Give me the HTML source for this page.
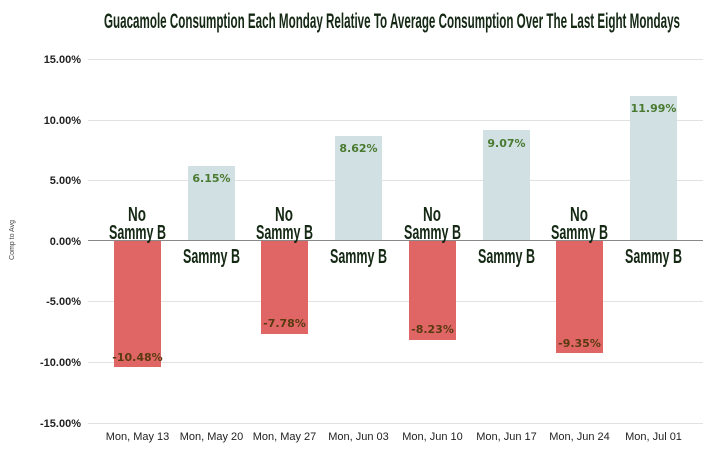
<!DOCTYPE html>
<html><head><meta charset="utf-8"><style>
html,body{margin:0;padding:0;background:#fff;}
svg{display:block;}
.cond{font-family:"Liberation Sans Narrow","Liberation Sans",sans-serif;font-weight:bold;fill:#142814;}
.tick{font-family:"Liberation Sans",sans-serif;font-weight:bold;font-size:11px;fill:#222;}
.xl{font-family:"Liberation Sans",sans-serif;font-size:11px;fill:#222;}
.vp{font-family:"DejaVu Sans",sans-serif;font-weight:bold;font-size:11px;fill:#4a7a30;}
.vn{font-family:"DejaVu Sans",sans-serif;font-weight:bold;font-size:11px;fill:#5a3a10;}
</style></head><body>
<svg width="726" height="464" viewBox="0 0 726 464" xmlns="http://www.w3.org/2000/svg">
<text class="cond" x="104" y="28" font-size="21" textLength="576" lengthAdjust="spacingAndGlyphs">Guacamole  Consumption  Each  Monday  Relative  To  Average  Consumption  Over  The  Last  Eight  Mondays</text>
<g stroke="#e2e2e2" stroke-width="1">
<line x1="88" y1="59.5" x2="703" y2="59.5"/>
<line x1="88" y1="120.5" x2="703" y2="120.5"/>
<line x1="88" y1="180.5" x2="703" y2="180.5"/>
<line x1="88" y1="301.5" x2="703" y2="301.5"/>
<line x1="88" y1="362.5" x2="703" y2="362.5"/>
<line x1="88" y1="423.5" x2="703" y2="423.5"/>
</g>
<g class="tick" text-anchor="end">
<text x="81" y="63">15.00%</text>
<text x="81" y="124">10.00%</text>
<text x="81" y="184">5.00%</text>
<text x="81" y="245">0.00%</text>
<text x="81" y="305">-5.00%</text>
<text x="81" y="366">-10.00%</text>
<text x="81" y="427">-15.00%</text>
</g>
<text x="14" y="240" font-family="Liberation Sans,sans-serif" font-size="7" fill="#444" text-anchor="middle" transform="rotate(-90 14 240)">Comp to Avg</text>
<g>
<rect x="114" y="240" width="47" height="127" fill="#e06666"/>
<rect x="188" y="166" width="47" height="74" fill="#d0e0e3"/>
<rect x="261" y="240" width="47" height="94" fill="#e06666"/>
<rect x="335" y="136" width="47" height="104" fill="#d0e0e3"/>
<rect x="409" y="240" width="47" height="100" fill="#e06666"/>
<rect x="483" y="130" width="47" height="110" fill="#d0e0e3"/>
<rect x="556" y="240" width="47" height="113" fill="#e06666"/>
<rect x="630" y="96" width="47" height="144" fill="#d0e0e3"/>
</g>
<line x1="88" y1="240.5" x2="703" y2="240.5" stroke="#888" stroke-width="1"/>
<g text-anchor="middle">
<text class="vn" x="137.5" y="361">-10.48%</text>
<text class="vp" x="211.5" y="182">6.15%</text>
<text class="vn" x="284.5" y="327">-7.78%</text>
<text class="vp" x="358.5" y="152">8.62%</text>
<text class="vn" x="432.5" y="333">-8.23%</text>
<text class="vp" x="506.5" y="147">9.07%</text>
<text class="vn" x="579.5" y="347">-9.35%</text>
<text class="vp" x="653.5" y="112">11.99%</text>
</g>
<g class="cond" font-size="20">
<text x="128" y="221" textLength="18" lengthAdjust="spacingAndGlyphs">No</text>
<text x="109" y="239" textLength="57" lengthAdjust="spacingAndGlyphs">Sammy  B</text>
<text x="183" y="263" textLength="57" lengthAdjust="spacingAndGlyphs">Sammy  B</text>
<text x="275" y="221" textLength="18" lengthAdjust="spacingAndGlyphs">No</text>
<text x="256" y="239" textLength="57" lengthAdjust="spacingAndGlyphs">Sammy  B</text>
<text x="330" y="263" textLength="57" lengthAdjust="spacingAndGlyphs">Sammy  B</text>
<text x="423" y="221" textLength="18" lengthAdjust="spacingAndGlyphs">No</text>
<text x="404" y="239" textLength="57" lengthAdjust="spacingAndGlyphs">Sammy  B</text>
<text x="478" y="263" textLength="57" lengthAdjust="spacingAndGlyphs">Sammy  B</text>
<text x="570" y="221" textLength="18" lengthAdjust="spacingAndGlyphs">No</text>
<text x="551" y="239" textLength="57" lengthAdjust="spacingAndGlyphs">Sammy  B</text>
<text x="625" y="263" textLength="57" lengthAdjust="spacingAndGlyphs">Sammy  B</text>
</g>
<g class="xl" text-anchor="middle">
<text x="137.5" y="440">Mon, May 13</text>
<text x="211.5" y="440">Mon, May 20</text>
<text x="284.5" y="440">Mon, May 27</text>
<text x="358.5" y="440">Mon, Jun 03</text>
<text x="432.5" y="440">Mon, Jun 10</text>
<text x="506.5" y="440">Mon, Jun 17</text>
<text x="579.5" y="440">Mon, Jun 24</text>
<text x="653.5" y="440">Mon, Jul 01</text>
</g>
</svg>
</body></html>
